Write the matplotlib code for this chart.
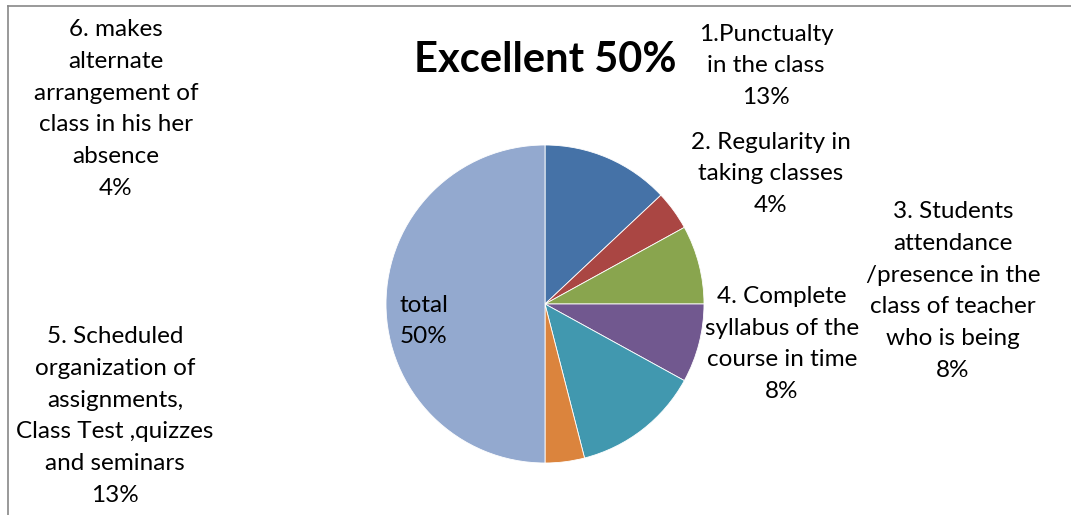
import matplotlib.pyplot as plt

plt.rcParams['font.family'] = ['Lato', 'DejaVu Sans']

# slice data, clockwise from the top
labels = ["1.Punctualty\nin the class",
          "2. Regularity in\ntaking classes",
          "3. Students\nattendance\n/presence in the\nclass of teacher\nwho is being",
          "4. Complete\nsyllabus of the\ncourse in time",
          "5. Scheduled\norganization of\nassignments,\nClass Test ,quizzes\nand seminars",
          "6. makes\nalternate\narrangement of\nclass in his her\nabsence",
          "total"]
values = [13, 4, 8, 8, 13, 4, 50]
colors = ["#4572A7", "#AA4643", "#89A54E", "#71588F", "#4198AF", "#DB843D", "#93A9CF"]

# label centres in pixel coordinates (x from left, y from top)
label_pos = [(766, 66), (771, 174), (953, 291), (782, 344), (115, 416), (116, 109), (424, 321)]

W, H = 1071, 515
fig = plt.figure(figsize=(W / 100, H / 100), dpi=100)
ax = fig.add_axes([0, 0, 1, 1])

ax.pie(values, colors=colors, startangle=90, counterclock=False,
       center=(545, H - 304), radius=159, frame=True,
       wedgeprops=dict(edgecolor='white', linewidth=0.6))
ax.set_xlim(0, W)
ax.set_ylim(0, H)
ax.set_aspect('equal')
ax.axis('off')

for lab, v, (px, py) in zip(labels, values, label_pos):
    ax.text(px, H - py, f"{lab}\n{v}%", ha='center', va='center',
            fontsize=17.5, linespacing=1.63, color='black')

ax.text(545, H - 60, "Excellent 50%", ha='center', va='center',
        fontsize=30, fontweight='bold')

# chart frame (cropped)
ax.plot([8, 8], [0, H - 6], color='#888888', lw=1.2)
ax.plot([8, W], [H - 6, H - 6], color='#888888', lw=1.2)

fig.savefig("out.png", dpi=100)
